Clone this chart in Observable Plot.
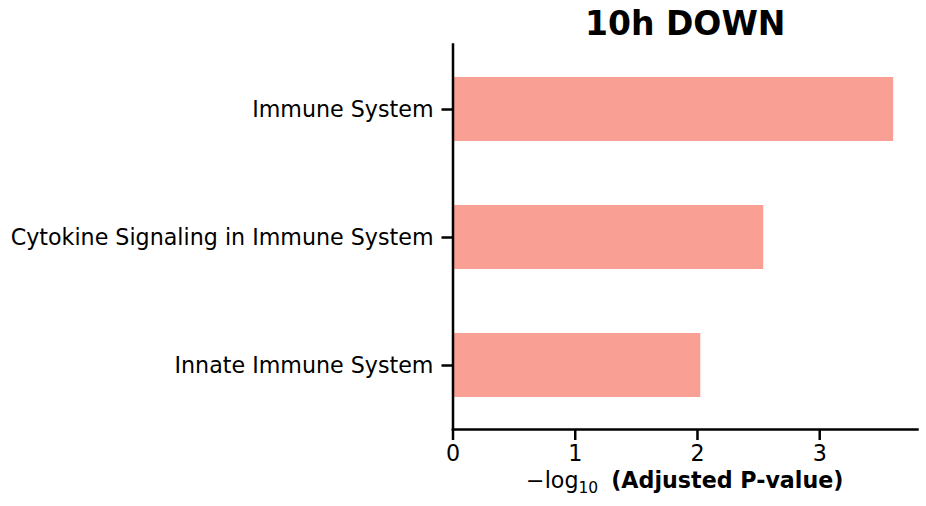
<!DOCTYPE html>
<html>
<head>
<meta charset="utf-8">
<script src="https://cdn.jsdelivr.net/npm/d3@7"></script>
<script src="https://cdn.jsdelivr.net/npm/@observablehq/plot@0.6"></script>
<style>
  html, body { margin: 0; padding: 0; background: #fff; }
  #chart svg { display: block; }
</style>
</head>
<body>
<div id="chart"></div>
<script>
const titleText = "10h DOWN";
const pathways = ["Immune System", "Cytokine Signaling in Immune System", "Innate Immune System"];
const negLogP = [3.605, 2.542, 2.027];
const xTicks = [0, 1, 2, 3];

const data = pathways.map((p, i) => ({pathway: p, value: negLogP[i]}));
const FONT = "DejaVu Sans";
const W = 926, H = 506;
const mL = 452.5, mR = 9, mT = 44, mB = 77;

const plot = Plot.plot({
  width: W,
  height: H,
  marginLeft: mL,
  marginRight: mR,
  marginTop: mT,
  marginBottom: mB,
  style: {fontFamily: FONT, fontSize: "22.2px", color: "#000", background: "#fff"},
  x: {domain: [0, 3.8], label: null},
  y: {domain: pathways, paddingInner: 0.5, paddingOuter: 0.25, label: null},
  marks: [
    Plot.barX(data, {x: "value", y: "pathway", fill: "#fa9f94"}),
    Plot.frame({anchor: "left", stroke: "#000", strokeWidth: 2.5}),
    Plot.frame({anchor: "bottom", stroke: "#000", strokeWidth: 2.5}),
    Plot.axisX({ticks: xTicks, tickFormat: d3.format("d"), tickSize: 11, tickPadding: 5, strokeWidth: 2.5, fontSize: 22.2, label: null}),
    Plot.axisY({tickSize: 11, tickPadding: 8.5, strokeWidth: 2.5, fontSize: 22.2, label: null}),
    Plot.text([titleText], {frameAnchor: "top", dy: -20, lineAnchor: "middle", fontSize: 33, fontWeight: "bold", fill: "#000"})
  ]
});

document.getElementById("chart").appendChild(plot);

// x-axis label with mixed styling
const svg = d3.select(plot);
const lbl = svg.append("text")
  .attr("x", mL + (W - mL - mR) / 2)
  .attr("y", 488)
  .attr("text-anchor", "middle")
  .attr("font-family", FONT)
  .attr("font-size", 22.2)
  .attr("fill", "#000");
lbl.append("tspan").text("\u2212log");
lbl.append("tspan").attr("font-size", 15.5).attr("dy", 5).text("10");
lbl.append("tspan").attr("dy", -5).attr("dx", 13).attr("font-weight", "bold").text("(Adjusted P-value)");
</script>
</body>
</html>
